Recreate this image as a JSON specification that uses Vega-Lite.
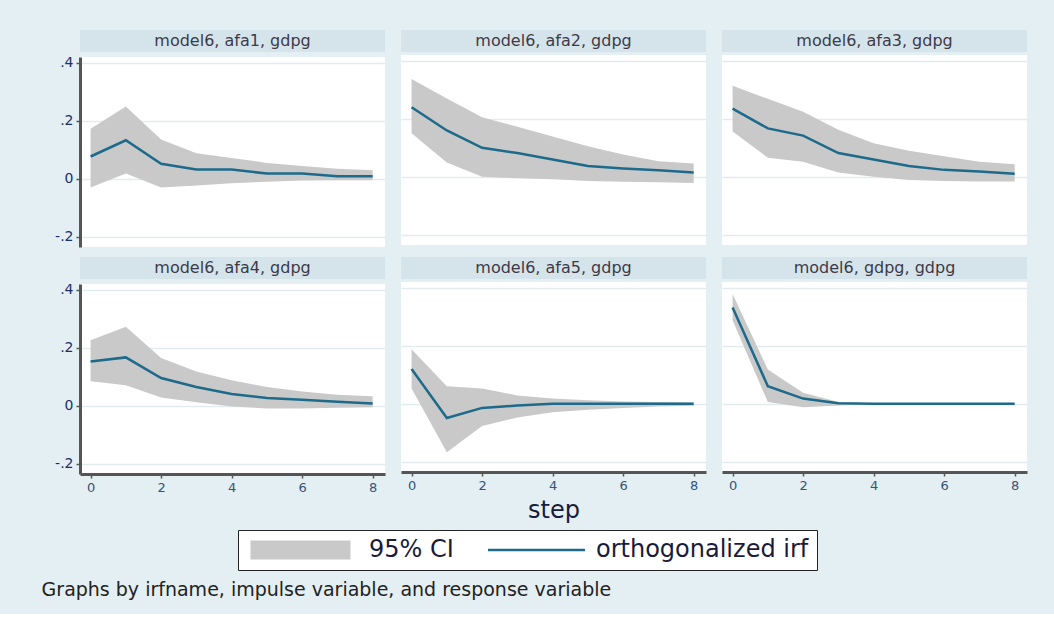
{
  "$schema": "https://vega.github.io/schema/vega-lite/v6.json",
  "background": "#e4eff3",
  "padding": {"left": 41, "top": 30, "right": 27, "bottom": 14},
  "title": {"text": "Graphs by irfname, impulse variable, and response variable", "orient": "bottom", "anchor": "start", "fontSize": 19, "fontWeight": "normal", "color": "#222222", "font": "DejaVu Sans", "offset": 10, "dx": -13},
  "datasets": {
    "irf": [
      {"panel": "model6, afa1, gdpg", "step": 0, "irf": 0.077, "lower": -0.030, "upper": 0.173},
      {"panel": "model6, afa1, gdpg", "step": 1, "irf": 0.133, "lower": 0.018, "upper": 0.249},
      {"panel": "model6, afa1, gdpg", "step": 2, "irf": 0.052, "lower": -0.030, "upper": 0.136},
      {"panel": "model6, afa1, gdpg", "step": 3, "irf": 0.032, "lower": -0.023, "upper": 0.088},
      {"panel": "model6, afa1, gdpg", "step": 4, "irf": 0.032, "lower": -0.015, "upper": 0.072},
      {"panel": "model6, afa1, gdpg", "step": 5, "irf": 0.018, "lower": -0.010, "upper": 0.055},
      {"panel": "model6, afa1, gdpg", "step": 6, "irf": 0.018, "lower": -0.006, "upper": 0.044},
      {"panel": "model6, afa1, gdpg", "step": 7, "irf": 0.009, "lower": -0.005, "upper": 0.035},
      {"panel": "model6, afa1, gdpg", "step": 8, "irf": 0.009, "lower": -0.005, "upper": 0.030},
      {"panel": "model6, afa2, gdpg", "step": 0, "irf": 0.240, "lower": 0.150, "upper": 0.337},
      {"panel": "model6, afa2, gdpg", "step": 1, "irf": 0.160, "lower": 0.049, "upper": 0.270},
      {"panel": "model6, afa2, gdpg", "step": 2, "irf": 0.100, "lower": 0.000, "upper": 0.205},
      {"panel": "model6, afa2, gdpg", "step": 3, "irf": 0.082, "lower": -0.005, "upper": 0.173},
      {"panel": "model6, afa2, gdpg", "step": 4, "irf": 0.060, "lower": -0.008, "upper": 0.139},
      {"panel": "model6, afa2, gdpg", "step": 5, "irf": 0.037, "lower": -0.014, "upper": 0.105},
      {"panel": "model6, afa2, gdpg", "step": 6, "irf": 0.029, "lower": -0.017, "upper": 0.077},
      {"panel": "model6, afa2, gdpg", "step": 7, "irf": 0.023, "lower": -0.019, "upper": 0.054},
      {"panel": "model6, afa2, gdpg", "step": 8, "irf": 0.015, "lower": -0.021, "upper": 0.046},
      {"panel": "model6, afa3, gdpg", "step": 0, "irf": 0.235, "lower": 0.156, "upper": 0.314},
      {"panel": "model6, afa3, gdpg", "step": 1, "irf": 0.167, "lower": 0.066, "upper": 0.269},
      {"panel": "model6, afa3, gdpg", "step": 2, "irf": 0.142, "lower": 0.052, "upper": 0.224},
      {"panel": "model6, afa3, gdpg", "step": 3, "irf": 0.082, "lower": 0.015, "upper": 0.162},
      {"panel": "model6, afa3, gdpg", "step": 4, "irf": 0.060, "lower": 0.000, "upper": 0.116},
      {"panel": "model6, afa3, gdpg", "step": 5, "irf": 0.037, "lower": -0.011, "upper": 0.090},
      {"panel": "model6, afa3, gdpg", "step": 6, "irf": 0.024, "lower": -0.014, "upper": 0.071},
      {"panel": "model6, afa3, gdpg", "step": 7, "irf": 0.018, "lower": -0.016, "upper": 0.052},
      {"panel": "model6, afa3, gdpg", "step": 8, "irf": 0.011, "lower": -0.016, "upper": 0.043},
      {"panel": "model6, afa4, gdpg", "step": 0, "irf": 0.153, "lower": 0.085, "upper": 0.226},
      {"panel": "model6, afa4, gdpg", "step": 1, "irf": 0.167, "lower": 0.071, "upper": 0.273},
      {"panel": "model6, afa4, gdpg", "step": 2, "irf": 0.096, "lower": 0.029, "upper": 0.165},
      {"panel": "model6, afa4, gdpg", "step": 3, "irf": 0.065, "lower": 0.012, "upper": 0.118},
      {"panel": "model6, afa4, gdpg", "step": 4, "irf": 0.041, "lower": -0.002, "upper": 0.088},
      {"panel": "model6, afa4, gdpg", "step": 5, "irf": 0.027, "lower": -0.009, "upper": 0.065},
      {"panel": "model6, afa4, gdpg", "step": 6, "irf": 0.021, "lower": -0.009, "upper": 0.049},
      {"panel": "model6, afa4, gdpg", "step": 7, "irf": 0.014, "lower": -0.007, "upper": 0.038},
      {"panel": "model6, afa4, gdpg", "step": 8, "irf": 0.008, "lower": -0.005, "upper": 0.033},
      {"panel": "model6, afa5, gdpg", "step": 0, "irf": 0.120, "lower": 0.053, "upper": 0.188},
      {"panel": "model6, afa5, gdpg", "step": 1, "irf": -0.049, "lower": -0.167, "upper": 0.061},
      {"panel": "model6, afa5, gdpg", "step": 2, "irf": -0.014, "lower": -0.076, "upper": 0.053},
      {"panel": "model6, afa5, gdpg", "step": 3, "irf": -0.006, "lower": -0.047, "upper": 0.029},
      {"panel": "model6, afa5, gdpg", "step": 4, "irf": 0.000, "lower": -0.029, "upper": 0.018},
      {"panel": "model6, afa5, gdpg", "step": 5, "irf": 0.000, "lower": -0.020, "upper": 0.012},
      {"panel": "model6, afa5, gdpg", "step": 6, "irf": 0.000, "lower": -0.014, "upper": 0.008},
      {"panel": "model6, afa5, gdpg", "step": 7, "irf": 0.000, "lower": -0.009, "upper": 0.006},
      {"panel": "model6, afa5, gdpg", "step": 8, "irf": 0.000, "lower": -0.007, "upper": 0.005},
      {"panel": "model6, gdpg, gdpg", "step": 0, "irf": 0.332, "lower": 0.288, "upper": 0.379},
      {"panel": "model6, gdpg, gdpg", "step": 1, "irf": 0.061, "lower": 0.006, "upper": 0.118},
      {"panel": "model6, gdpg, gdpg", "step": 2, "irf": 0.018, "lower": -0.012, "upper": 0.038},
      {"panel": "model6, gdpg, gdpg", "step": 3, "irf": 0.002, "lower": -0.006, "upper": 0.006},
      {"panel": "model6, gdpg, gdpg", "step": 4, "irf": 0.000, "lower": -0.001, "upper": 0.001},
      {"panel": "model6, gdpg, gdpg", "step": 5, "irf": 0.000, "lower": -0.001, "upper": 0.001},
      {"panel": "model6, gdpg, gdpg", "step": 6, "irf": 0.000, "lower": -0.001, "upper": 0.001},
      {"panel": "model6, gdpg, gdpg", "step": 7, "irf": 0.000, "lower": -0.001, "upper": 0.001},
      {"panel": "model6, gdpg, gdpg", "step": 8, "irf": 0.000, "lower": -0.001, "upper": 0.001}
    ]
  },
  "spacing": 10,
  "vconcat": [
    {
      "spacing": 16,
      "hconcat": [
        {"spacing": 3, "vconcat": [
          {"width": 305, "height": 22, "data": {"name": "irf"}, "transform": [{"filter": "datum.panel === 'model6, afa1, gdpg' && datum.step === 0"}], "view": {"fill": "#d5e4ea", "stroke": null}, "mark": {"type": "text", "fontSize": 16, "font": "DejaVu Sans", "color": "#3d3a48"}, "encoding": {"text": {"field": "panel"}}},
          {"width": 305, "height": 190, "data": {"name": "irf"}, "transform": [{"filter": "datum.panel === 'model6, afa1, gdpg'"}], "view": {"fill": "white", "stroke": null},
           "encoding": {"x": {"field": "step", "type": "quantitative", "scale": {"domain": [-0.3, 8.35], "nice": false, "zero": false}, "axis": null}},
           "layer": [
             {"mark": {"type": "area", "opacity": 1}, "encoding": {"y": {"field": "lower", "type": "quantitative", "scale": {"domain": [-0.235, 0.42], "nice": false, "zero": false}, "axis": {"values": [-0.2, 0, 0.2, 0.4], "title": null}}, "y2": {"field": "upper"},
               "color": {"datum": "95% CI", "scale": {"domain": ["95% CI", "orthogonalized irf"], "range": ["#c9c9c9", "#1d6a8b"]},
                 "legend": {"orient": "none", "legendX": 158, "legendY": 500, "direction": "horizontal", "title": null, "labelLimit": 400, "symbolType": "M-1.5,0H8.5", "symbolSize": 400, "labelOffset": 84, "clipHeight": 24}},
               "strokeWidth": {"datum": "95% CI", "scale": {"domain": ["95% CI", "orthogonalized irf"], "range": [19, 2.5]},
                 "legend": {"orient": "none", "legendX": 158, "legendY": 500, "direction": "horizontal", "title": null, "labelLimit": 400, "symbolType": "M-1.5,0H8.5", "symbolSize": 400, "labelOffset": 84, "clipHeight": 24}}}},
             {"mark": {"type": "line"}, "encoding": {"y": {"field": "irf", "type": "quantitative", "axis": {"values": [-0.2, 0, 0.2, 0.4], "title": null}}, "color": {"datum": "orthogonalized irf"}, "strokeWidth": {"datum": "orthogonalized irf"}}}
           ]}
        ]},
        {"spacing": 3, "vconcat": [
          {"width": 305, "height": 22, "data": {"name": "irf"}, "transform": [{"filter": "datum.panel === 'model6, afa2, gdpg' && datum.step === 0"}], "view": {"fill": "#d5e4ea", "stroke": null}, "mark": {"type": "text", "fontSize": 16, "font": "DejaVu Sans", "color": "#3d3a48"}, "encoding": {"text": {"field": "panel"}}},
          {"width": 305, "height": 190, "data": {"name": "irf"}, "transform": [{"filter": "datum.panel === 'model6, afa2, gdpg'"}], "view": {"fill": "white", "stroke": null},
           "encoding": {"x": {"field": "step", "type": "quantitative", "scale": {"domain": [-0.3, 8.35], "nice": false, "zero": false}, "axis": null}},
           "layer": [
             {"mark": {"type": "area", "opacity": 1}, "encoding": {"y": {"field": "lower", "type": "quantitative", "scale": {"domain": [-0.235, 0.42], "nice": false, "zero": false}, "axis": {"values": [-0.2, 0, 0.2, 0.4], "title": null, "labels": false, "ticks": false, "domain": false}}, "y2": {"field": "upper"}, "color": {"datum": "95% CI"}, "strokeWidth": {"datum": "95% CI"}}},
             {"mark": {"type": "line"}, "encoding": {"y": {"field": "irf", "type": "quantitative", "axis": {"values": [-0.2, 0, 0.2, 0.4], "title": null, "labels": false, "ticks": false, "domain": false}}, "color": {"datum": "orthogonalized irf"}, "strokeWidth": {"datum": "orthogonalized irf"}}}
           ]}
        ]},
        {"spacing": 3, "vconcat": [
          {"width": 305, "height": 22, "data": {"name": "irf"}, "transform": [{"filter": "datum.panel === 'model6, afa3, gdpg' && datum.step === 0"}], "view": {"fill": "#d5e4ea", "stroke": null}, "mark": {"type": "text", "fontSize": 16, "font": "DejaVu Sans", "color": "#3d3a48"}, "encoding": {"text": {"field": "panel"}}},
          {"width": 305, "height": 190, "data": {"name": "irf"}, "transform": [{"filter": "datum.panel === 'model6, afa3, gdpg'"}], "view": {"fill": "white", "stroke": null},
           "encoding": {"x": {"field": "step", "type": "quantitative", "scale": {"domain": [-0.3, 8.35], "nice": false, "zero": false}, "axis": null}},
           "layer": [
             {"mark": {"type": "area", "opacity": 1}, "encoding": {"y": {"field": "lower", "type": "quantitative", "scale": {"domain": [-0.235, 0.42], "nice": false, "zero": false}, "axis": {"values": [-0.2, 0, 0.2, 0.4], "title": null, "labels": false, "ticks": false, "domain": false}}, "y2": {"field": "upper"}, "color": {"datum": "95% CI"}, "strokeWidth": {"datum": "95% CI"}}},
             {"mark": {"type": "line"}, "encoding": {"y": {"field": "irf", "type": "quantitative", "axis": {"values": [-0.2, 0, 0.2, 0.4], "title": null, "labels": false, "ticks": false, "domain": false}}, "color": {"datum": "orthogonalized irf"}, "strokeWidth": {"datum": "orthogonalized irf"}}}
           ]}
        ]}
      ]
    },
    {
      "spacing": 16,
      "hconcat": [
        {"spacing": 3, "vconcat": [
          {"width": 305, "height": 22, "data": {"name": "irf"}, "transform": [{"filter": "datum.panel === 'model6, afa4, gdpg' && datum.step === 0"}], "view": {"fill": "#d5e4ea", "stroke": null}, "mark": {"type": "text", "fontSize": 16, "font": "DejaVu Sans", "color": "#3d3a48"}, "encoding": {"text": {"field": "panel"}}},
          {"width": 305, "height": 190, "data": {"name": "irf"}, "transform": [{"filter": "datum.panel === 'model6, afa4, gdpg'"}], "view": {"fill": "white", "stroke": null},
           "encoding": {"x": {"field": "step", "type": "quantitative", "scale": {"domain": [-0.3, 8.35], "nice": false, "zero": false}, "axis": {"values": [0, 2, 4, 6, 8], "format": "d", "title": null}}},
           "layer": [
             {"mark": {"type": "area", "opacity": 1}, "encoding": {"y": {"field": "lower", "type": "quantitative", "scale": {"domain": [-0.235, 0.42], "nice": false, "zero": false}, "axis": {"values": [-0.2, 0, 0.2, 0.4], "title": null}}, "y2": {"field": "upper"}, "color": {"datum": "95% CI"}, "strokeWidth": {"datum": "95% CI"}}},
             {"mark": {"type": "line"}, "encoding": {"y": {"field": "irf", "type": "quantitative", "axis": {"values": [-0.2, 0, 0.2, 0.4], "title": null}}, "color": {"datum": "orthogonalized irf"}, "strokeWidth": {"datum": "orthogonalized irf"}}}
           ]}
        ]},
        {"spacing": 3, "vconcat": [
          {"width": 305, "height": 22, "data": {"name": "irf"}, "transform": [{"filter": "datum.panel === 'model6, afa5, gdpg' && datum.step === 0"}], "view": {"fill": "#d5e4ea", "stroke": null}, "mark": {"type": "text", "fontSize": 16, "font": "DejaVu Sans", "color": "#3d3a48"}, "encoding": {"text": {"field": "panel"}}},
          {"width": 305, "height": 190, "data": {"name": "irf"}, "transform": [{"filter": "datum.panel === 'model6, afa5, gdpg'"}], "view": {"fill": "white", "stroke": null},
           "encoding": {"x": {"field": "step", "type": "quantitative", "scale": {"domain": [-0.3, 8.35], "nice": false, "zero": false}, "axis": {"values": [0, 2, 4, 6, 8], "format": "d", "title": "step"}}},
           "layer": [
             {"mark": {"type": "area", "opacity": 1}, "encoding": {"y": {"field": "lower", "type": "quantitative", "scale": {"domain": [-0.235, 0.42], "nice": false, "zero": false}, "axis": {"values": [-0.2, 0, 0.2, 0.4], "title": null, "labels": false, "ticks": false, "domain": false}}, "y2": {"field": "upper"}, "color": {"datum": "95% CI"}, "strokeWidth": {"datum": "95% CI"}}},
             {"mark": {"type": "line"}, "encoding": {"y": {"field": "irf", "type": "quantitative", "axis": {"values": [-0.2, 0, 0.2, 0.4], "title": null, "labels": false, "ticks": false, "domain": false}}, "color": {"datum": "orthogonalized irf"}, "strokeWidth": {"datum": "orthogonalized irf"}}}
           ]}
        ]},
        {"spacing": 3, "vconcat": [
          {"width": 305, "height": 22, "data": {"name": "irf"}, "transform": [{"filter": "datum.panel === 'model6, gdpg, gdpg' && datum.step === 0"}], "view": {"fill": "#d5e4ea", "stroke": null}, "mark": {"type": "text", "fontSize": 16, "font": "DejaVu Sans", "color": "#3d3a48"}, "encoding": {"text": {"field": "panel"}}},
          {"width": 305, "height": 190, "data": {"name": "irf"}, "transform": [{"filter": "datum.panel === 'model6, gdpg, gdpg'"}], "view": {"fill": "white", "stroke": null},
           "encoding": {"x": {"field": "step", "type": "quantitative", "scale": {"domain": [-0.3, 8.35], "nice": false, "zero": false}, "axis": {"values": [0, 2, 4, 6, 8], "format": "d", "title": null}}},
           "layer": [
             {"mark": {"type": "area", "opacity": 1}, "encoding": {"y": {"field": "lower", "type": "quantitative", "scale": {"domain": [-0.235, 0.42], "nice": false, "zero": false}, "axis": {"values": [-0.2, 0, 0.2, 0.4], "title": null, "labels": false, "ticks": false, "domain": false}}, "y2": {"field": "upper"}, "color": {"datum": "95% CI"}, "strokeWidth": {"datum": "95% CI"}}},
             {"mark": {"type": "line"}, "encoding": {"y": {"field": "irf", "type": "quantitative", "axis": {"values": [-0.2, 0, 0.2, 0.4], "title": null, "labels": false, "ticks": false, "domain": false}}, "color": {"datum": "orthogonalized irf"}, "strokeWidth": {"datum": "orthogonalized irf"}}}
           ]}
        ]}
      ]
    }
  ],
  "config": {
    "font": "DejaVu Sans",
    "axisY": {"grid": true, "gridColor": "#e2ecef", "gridWidth": 1.5, "domainColor": "#555555", "domainWidth": 3, "tickColor": "#555555", "tickSize": 4, "tickWidth": 1.5, "labelFontSize": 14, "labelColor": "#1f2d6b", "labelFont": "DejaVu Sans", "labelPadding": 3,
      "labelExpr": "datum.value == 0 ? '0' : (datum.value < 0 ? '-' : '') + replace(format(abs(datum.value), '.1f'), '0.', '.')"},
    "axisX": {"grid": false, "domainColor": "#555555", "domainWidth": 3, "tickColor": "#555555", "tickSize": 4, "tickWidth": 1.5, "labelFontSize": 13, "labelColor": "#33557a", "labelFont": "DejaVu Sans", "labelPadding": 3,
      "titleFontSize": 24, "titleFont": "DejaVu Sans", "titleFontWeight": "normal", "titleColor": "#1a1a3a", "titlePadding": 6},
    "legend": {"labelFontSize": 24, "labelFont": "DejaVu Sans", "labelColor": "#1a1a3a", "labelLimit": 400, "fillColor": "white", "strokeColor": "#222222", "padding": 8, "columnPadding": 34, "symbolOpacity": 1}
  }
}
